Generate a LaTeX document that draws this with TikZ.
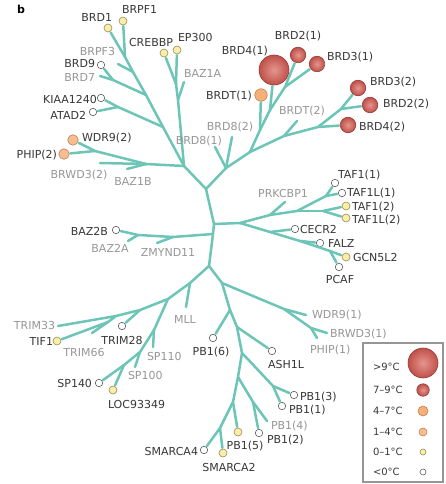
\documentclass[tikz,border=0pt]{standalone}
\usepackage{fontspec}
\setmainfont{DejaVu Sans}
\usepackage{xcolor}
\usetikzlibrary{positioning}

\definecolor{branchteal}{RGB}{108,197,182}
\definecolor{namedark}{RGB}{55,55,55}
\definecolor{namegrey}{RGB}{150,150,150}
\definecolor{coldrim}{RGB}{95,95,95}
\definecolor{mildrim}{RGB}{150,140,90}
\definecolor{mildfill}{RGB}{250,238,168}
\definecolor{warmrim}{RGB}{195,125,80}
\definecolor{warmfill}{RGB}{245,190,145}
\definecolor{orangefill}{RGB}{244,176,118}
\definecolor{hotrim}{RGB}{150,58,52}
\definecolor{hotcore}{RGB}{228,150,142}
\definecolor{hotedge}{RGB}{192,80,74}
\definecolor{legendgrey}{RGB}{150,150,150}

\begin{document}
\begin{tikzpicture}[x=1pt, y=-1pt,
    every node/.style={inner sep=0pt, outer sep=0pt},
    branch/.style={draw=branchteal, line width=2.5pt, line cap=round, line join=round},
    twig/.style={branch, shorten >=1.2pt},
    dot/.style={circle, draw, line width=0.6pt},
    below_zero/.style={dot, draw=coldrim, fill=white, minimum size=7.5pt},
    zero_one/.style={dot, draw=mildrim, fill=mildfill, minimum size=8pt},
    one_four/.style={dot, draw=warmrim, fill=warmfill, minimum size=10.5pt},
    four_seven/.style={dot, draw=warmrim, fill=orangefill, minimum size=12.5pt},
    seven_nine/.style={dot, draw=hotrim, inner color=hotcore, outer color=hotedge, minimum size=15.5pt},
    above_nine/.style={seven_nine, minimum size=30pt},
    name_dark/.style={text=namedark, font=\fontsize{11}{12}\selectfont, text height=8pt, text depth=0pt},
    name_grey/.style={name_dark, text=namegrey},
    legend_text/.style={name_dark, font=\fontsize{10}{11}\selectfont, text height=7pt}
]
    \useasboundingbox (0,0) rectangle (445,484);

    \node (panel_b) [font=\bfseries\fontsize{11}{12}\selectfont, shift={(21,9)}] {b};

    % tree junctions
    \coordinate (j1) at (206,189);
    \coordinate (t2) at (214,224);
    \coordinate (t3) at (213,234);
    \coordinate (j3) at (209,266);
    \coordinate (j_ul) at (184,166);
    \coordinate (u1) at (163,127);
    \coordinate (u2) at (146,95);
    \coordinate (u3) at (133,72);
    \coordinate (u4) at (125,57);
    \coordinate (br1) at (113,80);
    \coordinate (ka) at (118,107);
    \coordinate (b1) at (146,164);
    \coordinate (b2) at (95,151);
    \coordinate (c1) at (178,100);
    \coordinate (c2) at (176,84);
    \coordinate (x) at (226,168);
    \coordinate (v) at (250,152);
    \coordinate (y1) at (260,130);
    \coordinate (y2) at (270,110);
    \coordinate (y3) at (285,87);
    \coordinate (w) at (284,136);
    \coordinate (w2) at (318,127);
    \coordinate (w3) at (341,109);
    \coordinate (r0) at (240,223);
    \coordinate (r1) at (270,215);
    \coordinate (r2) at (297,211);
    \coordinate (r3) at (326,196);
    \coordinate (r4) at (323,211);
    \coordinate (s1) at (270,232);
    \coordinate (s2) at (300,241);
    \coordinate (s3) at (330,251);
    \coordinate (z1) at (173,237);
    \coordinate (z2) at (138,235);
    \coordinate (l1) at (190,283);
    \coordinate (l2) at (168,299);
    \coordinate (tr1) at (140,310);
    \coordinate (tr2) at (116,316);
    \coordinate (tr3) at (108,322);
    \coordinate (sp1) at (154,330);
    \coordinate (sp2) at (140,352);
    \coordinate (sp3) at (124,365);
    \coordinate (p1) at (222,283);
    \coordinate (q1) at (284,309);
    \coordinate (q2) at (311,328);
    \coordinate (pb1) at (230,310);
    \coordinate (pb2) at (237,327);
    \coordinate (pb3) at (242,353);
    \coordinate (pb4) at (273,386);
    \coordinate (pb5) at (238,377);
    \coordinate (pb6) at (253,402);
    \coordinate (pb7) at (233,402);
    \coordinate (sm1) at (220,428);

    % untested leaves
    \coordinate (brpf3_end) at (118,64);
    \coordinate (brd7_end) at (100,76);
    \coordinate (brwd3_2_end) at (100,163);
    \coordinate (baz1b_end) at (127,169);
    \coordinate (baz1a_end) at (184,82);
    \coordinate (brd8_1_end) at (215,147);
    \coordinate (brd8_2_end) at (232,137);
    \coordinate (brdt_2_end) at (297,121);
    \coordinate (prkcbp1_end) at (285,202);
    \coordinate (zmynd11_end) at (157,243);
    \coordinate (baz2a_end) at (128,241);
    \coordinate (mll_end) at (186,307);
    \coordinate (trim33_end) at (58,326);
    \coordinate (trim66_end) at (92,333);
    \coordinate (sp110_end) at (153,347);
    \coordinate (sp100_end) at (135,367);
    \coordinate (wdr9_1_end) at (306,315);
    \coordinate (brwd3_1_end) at (327,333);
    \coordinate (phip_1_end) at (317,338);
    \coordinate (pb1_4_end) at (267,421);

    % tested leaves
    \node (brd1) [zero_one, shift={(108,28)}] {};
    \node (brpf1) [zero_one, shift={(123,21)}] {};
    \node (crebbp) [zero_one, shift={(164,53)}] {};
    \node (ep300) [zero_one, shift={(177,50)}] {};
    \node (brd9) [below_zero, shift={(101,65)}] {};
    \node (kiaa1240) [below_zero, shift={(101,98)}] {};
    \node (atad2) [below_zero, shift={(93,112)}] {};
    \node (wdr9_2) [one_four, shift={(73,140)}] {};
    \node (phip_2) [one_four, shift={(64,154)}] {};
    \node (brd4_1) [above_nine, shift={(274,70)}] {};
    \node (brd2_1) [seven_nine, shift={(298,55)}] {};
    \node (brd3_1) [seven_nine, shift={(317,64)}] {};
    \node (brdt_1) [four_seven, shift={(261,95)}] {};
    \node (brd3_2) [seven_nine, shift={(358,88)}] {};
    \node (brd2_2) [seven_nine, shift={(370,105)}] {};
    \node (brd4_2) [seven_nine, shift={(348,125)}] {};
    \node (taf1_1) [below_zero, shift={(335,183)}] {};
    \node (taf1l_1) [below_zero, shift={(342,193)}] {};
    \node (taf1_2) [zero_one, shift={(346,206)}] {};
    \node (taf1l_2) [zero_one, shift={(346,218)}] {};
    \node (cecr2) [below_zero, shift={(295,229)}] {};
    \node (falz) [below_zero, shift={(320,243)}] {};
    \node (gcn5l2) [zero_one, shift={(346,257)}] {};
    \node (pcaf) [below_zero, shift={(339,267)}] {};
    \node (baz2b) [below_zero, shift={(116,230)}] {};
    \node (tif1) [zero_one, shift={(57,341)}] {};
    \node (trim28) [below_zero, shift={(122,326)}] {};
    \node (sp140) [below_zero, shift={(99,383)}] {};
    \node (loc93349) [zero_one, shift={(113,390)}] {};
    \node (pb1_6) [below_zero, shift={(213,338)}] {};
    \node (ash1l) [below_zero, shift={(272,351)}] {};
    \node (pb1_3) [below_zero, shift={(294,395)}] {};
    \node (pb1_1) [below_zero, shift={(282,406)}] {};
    \node (pb1_2) [below_zero, shift={(259,433)}] {};
    \node (pb1_5) [zero_one, shift={(238,432)}] {};
    \node (smarca4) [below_zero, shift={(204,450)}] {};
    \node (smarca2) [zero_one, shift={(223,453)}] {};

    % trunk and clades
    \draw[branch] (j1) -- (t2) -- (t3) -- (j3);
    \draw[branch] (j1) -- (j_ul);
    \draw[branch] (j_ul) -- (u1) -- (u2) -- (u3) -- (u4);
    \draw[twig] (u4) -- (brd1);
    \draw[twig] (u4) -- (brpf1);
    \draw[branch] (u3) -- (brpf3_end);
    \draw[branch] (u2) -- (br1) -- (brd7_end);
    \draw[twig] (br1) -- (brd9);
    \draw[branch] (u1) -- (ka);
    \draw[twig] (ka) -- (kiaa1240);
    \draw[twig] (ka) -- (atad2);
    \draw[branch] (j_ul) -- (b1) -- (b2);
    \draw[branch] (b1) -- (brwd3_2_end);
    \draw[branch] (b1) -- (baz1b_end);
    \draw[twig] (b2) -- (wdr9_2);
    \draw[twig] (b2) -- (phip_2);
    \draw[branch] (j_ul) -- (c1) -- (c2);
    \draw[branch] (c1) -- (baz1a_end);
    \draw[twig] (c2) -- (crebbp);
    \draw[twig] (c2) -- (ep300);

    \draw[branch] (j1) -- (x) -- (v);
    \draw[branch] (x) -- (brd8_1_end);
    \draw[branch] (x) -- (brd8_2_end);
    \draw[branch] (v) -- (y1) -- (y2) -- (y3);
    \draw[twig] (y1) -- (brdt_1);
    \draw[twig] (y2) -- (brd4_1);
    \draw[twig] (y3) -- (brd2_1);
    \draw[twig] (y3) -- (brd3_1);
    \draw[branch] (v) -- (w) -- (w2) -- (w3);
    \draw[branch] (w) -- (brdt_2_end);
    \draw[twig] (w2) -- (brd4_2);
    \draw[twig] (w3) -- (brd3_2);
    \draw[twig] (w3) -- (brd2_2);

    \draw[branch] (t2) -- (r0) -- (r1) -- (r2) -- (r3);
    \draw[branch] (r1) -- (prkcbp1_end);
    \draw[branch] (r2) -- (r4);
    \draw[twig] (r3) -- (taf1_1);
    \draw[twig] (r3) -- (taf1l_1);
    \draw[twig] (r4) -- (taf1_2);
    \draw[twig] (r4) -- (taf1l_2);
    \draw[branch] (r0) -- (s1) -- (s2) -- (s3);
    \draw[twig] (s1) -- (cecr2);
    \draw[twig] (s2) -- (falz);
    \draw[twig] (s3) -- (gcn5l2);
    \draw[twig] (s3) -- (pcaf);

    \draw[branch] (t3) -- (z1) -- (z2) -- (baz2a_end);
    \draw[branch] (z1) -- (zmynd11_end);
    \draw[twig] (z2) -- (baz2b);

    \draw[branch] (j3) -- (l1) -- (l2) -- (tr1) -- (tr2) -- (tr3) -- (trim66_end);
    \draw[branch] (l1) -- (mll_end);
    \draw[twig] (tr1) -- (trim28);
    \draw[branch] (tr2) -- (trim33_end);
    \draw[twig] (tr3) -- (tif1);
    \draw[branch] (l2) -- (sp1) -- (sp2) -- (sp3);
    \draw[branch] (sp1) -- (sp110_end);
    \draw[branch] (sp2) -- (sp100_end);
    \draw[twig] (sp3) -- (sp140);
    \draw[twig] (sp3) -- (loc93349);

    \draw[branch] (j3) -- (p1) -- (q1) -- (wdr9_1_end);
    \draw[branch] (q1) -- (q2) -- (brwd3_1_end);
    \draw[branch] (q2) -- (phip_1_end);
    \draw[branch] (p1) -- (pb1) -- (pb2) -- (pb3) -- (pb5) -- (pb7) -- (sm1);
    \draw[twig] (pb1) -- (pb1_6);
    \draw[twig] (pb2) -- (ash1l);
    \draw[branch] (pb3) -- (pb4);
    \draw[twig] (pb4) -- (pb1_3);
    \draw[twig] (pb4) -- (pb1_1);
    \draw[branch] (pb5) -- (pb6) -- (pb1_4_end);
    \draw[twig] (pb6) -- (pb1_2);
    \draw[twig] (pb7) -- (pb1_5);
    \draw[twig] (sm1) -- (smarca4);
    \draw[twig] (sm1) -- (smarca2);

    % names
    \node (brd1_name) [name_dark, anchor=east, shift={(112,18)}] {BRD1};
    \node (brpf1_name) [name_dark, anchor=west, shift={(122,10)}] {BRPF1};
    \node (crebbp_name) [name_dark, anchor=east, shift={(173,43)}] {CREBBP};
    \node (ep300_name) [name_dark, anchor=west, shift={(178,38)}] {EP300};
    \node (brpf3_name) [name_grey, anchor=east, shift={(115,52)}] {BRPF3};
    \node (brd9_name) [name_dark, anchor=east, shift={(95,64)}] {BRD9};
    \node (brd7_name) [name_grey, anchor=east, shift={(95,78)}] {BRD7};
    \node (baz1a_name) [name_grey, anchor=west, shift={(184,74)}] {BAZ1A};
    \node (kiaa1240_name) [name_dark, anchor=east, shift={(97,99)}] {KIAA1240};
    \node (atad2_name) [name_dark, anchor=east, shift={(86,116)}] {ATAD2};
    \node (wdr9_2_name) [name_dark, anchor=west, shift={(82,137)}] {WDR9(2)};
    \node (phip_2_name) [name_dark, anchor=east, shift={(57,154)}] {PHIP(2)};
    \node (brwd3_2_name) [name_grey, shift={(79,174)}] {BRWD3(2)};
    \node (baz1b_name) [name_grey, shift={(133,181)}] {BAZ1B};
    \node (brd8_1_name) [name_grey, anchor=east, shift={(222,140)}] {BRD8(1)};
    \node (brd8_2_name) [name_grey, shift={(230,127)}] {BRD8(2)};
    \node (brd2_1_name) [name_dark, shift={(298,36)}] {BRD2(1)};
    \node (brd4_1_name) [name_dark, anchor=east, shift={(268,51)}] {BRD4(1)};
    \node (brd3_1_name) [name_dark, anchor=west, shift={(327,57)}] {BRD3(1)};
    \node (brdt_1_name) [name_dark, anchor=east, shift={(252,96)}] {BRDT(1)};
    \node (brdt_2_name) [name_grey, shift={(302,110)}] {BRDT(2)};
    \node (brd3_2_name) [name_dark, anchor=west, shift={(370,82)}] {BRD3(2)};
    \node (brd2_2_name) [name_dark, anchor=west, shift={(383,104)}] {BRD2(2)};
    \node (brd4_2_name) [name_dark, anchor=west, shift={(359,127)}] {BRD4(2)};
    \node (prkcbp1_name) [name_grey, shift={(283,193)}] {PRKCBP1};
    \node (taf1_1_name) [name_dark, anchor=west, shift={(338,174)}] {TAF1(1)};
    \node (taf1l_1_name) [name_dark, anchor=west, shift={(347,192)}] {TAF1L(1)};
    \node (taf1_2_name) [name_dark, anchor=west, shift={(352,206)}] {TAF1(2)};
    \node (taf1l_2_name) [name_dark, anchor=west, shift={(352,219)}] {TAF1L(2)};
    \node (cecr2_name) [name_dark, anchor=west, shift={(300,229)}] {CECR2};
    \node (falz_name) [name_dark, anchor=west, shift={(328,243)}] {FALZ};
    \node (gcn5l2_name) [name_dark, anchor=west, shift={(353,257)}] {GCN5L2};
    \node (pcaf_name) [name_dark, shift={(340,279)}] {PCAF};
    \node (baz2b_name) [name_dark, anchor=east, shift={(108,231)}] {BAZ2B};
    \node (baz2a_name) [name_grey, shift={(110,248)}] {BAZ2A};
    \node (zmynd11_name) [name_grey, shift={(168,252)}] {ZMYND11};
    \node (trim33_name) [name_grey, anchor=east, shift={(55,325)}] {TRIM33};
    \node (tif1_name) [name_dark, anchor=east, shift={(53,341)}] {TIF1};
    \node (trim66_name) [name_grey, shift={(84,352)}] {TRIM66};
    \node (trim28_name) [name_dark, shift={(122,340)}] {TRIM28};
    \node (mll_name) [name_grey, shift={(185,319)}] {MLL};
    \node (sp110_name) [name_grey, anchor=west, shift={(147,356)}] {SP110};
    \node (sp100_name) [name_grey, anchor=west, shift={(128,375)}] {SP100};
    \node (sp140_name) [name_dark, anchor=east, shift={(92,383)}] {SP140};
    \node (loc93349_name) [name_dark, anchor=west, shift={(108,404)}] {LOC93349};
    \node (pb1_6_name) [name_dark, shift={(211,351)}] {PB1(6)};
    \node (ash1l_name) [name_dark, anchor=west, shift={(268,364)}] {ASH1L};
    \node (wdr9_1_name) [name_grey, anchor=west, shift={(312,314)}] {WDR9(1)};
    \node (brwd3_1_name) [name_grey, anchor=west, shift={(330,333)}] {BRWD3(1)};
    \node (phip_1_name) [name_grey, anchor=west, shift={(310,349)}] {PHIP(1)};
    \node (pb1_3_name) [name_dark, anchor=west, shift={(300,396)}] {PB1(3)};
    \node (pb1_1_name) [name_dark, anchor=west, shift={(289,409)}] {PB1(1)};
    \node (pb1_4_name) [name_grey, anchor=west, shift={(271,425)}] {PB1(4)};
    \node (pb1_2_name) [name_dark, anchor=west, shift={(267,439)}] {PB1(2)};
    \node (pb1_5_name) [name_dark, shift={(245,445)}] {PB1(5)};
    \node (smarca4_name) [name_dark, anchor=east, shift={(198,451)}] {SMARCA4};
    \node (smarca2_name) [name_dark, shift={(229,467)}] {SMARCA2};

    % key
    \node (key_box) [draw=legendgrey, line width=1.2pt, minimum width=80pt, minimum height=139pt, shift={(403,412.5)}] {};
    \node (key_above_nine) [above_nine, shift={(423,363)}] {};
    \node (key_seven_nine) [seven_nine, minimum size=12.5pt, shift={(423,390)}] {};
    \node (key_four_seven) [four_seven, minimum size=10pt, shift={(423,411)}] {};
    \node (key_one_four) [one_four, minimum size=8pt, shift={(423,432)}] {};
    \node (key_zero_one) [zero_one, minimum size=6pt, shift={(423,452)}] {};
    \node (key_below_zero) [below_zero, minimum size=6pt, shift={(423,472)}] {};
    \node (key_above_nine_text) [legend_text, anchor=west, shift={(373,367)}] {>9°C};
    \node (key_seven_nine_text) [legend_text, anchor=west, shift={(373,390)}] {7–9°C};
    \node (key_four_seven_text) [legend_text, anchor=west, shift={(373,411)}] {4–7°C};
    \node (key_one_four_text) [legend_text, anchor=west, shift={(373,432)}] {1–4°C};
    \node (key_zero_one_text) [legend_text, anchor=west, shift={(373,452)}] {0–1°C};
    \node (key_below_zero_text) [legend_text, anchor=west, shift={(373,472)}] {<0°C};
\end{tikzpicture}
\end{document}
